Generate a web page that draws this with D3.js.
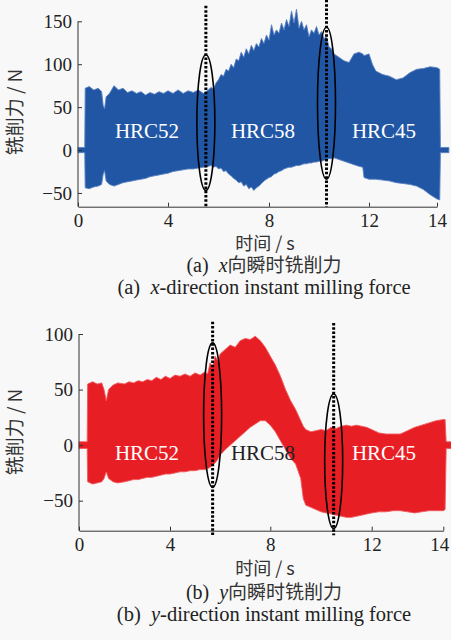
<!DOCTYPE html>
<html>
<head>
<meta charset="utf-8">
<script src="https://cdn.jsdelivr.net/npm/d3@7"></script>
<style>
  body { margin: 0; background: #f8f8f8; }
  svg { display: block; }
</style>
</head>
<body>
<div id="chart-area"></div>
<script>

var width = 451,
    height = 640;

// time ticks / labels
var xTicks = [0, 4, 8, 12, 14];
var yTicksTop = [-50, 0, 50, 100, 150];
var yTicksBot = [-50, 0, 50, 100];
var zoneLabels = ["HRC52", "HRC58", "HRC45"];

// (a) x-direction force envelope
var xTime  = [0, 0.30, 0.32, 0.5, 0.7, 0.9, 1.05, 1.12, 1.18, 1.25, 1.4, 1.6, 1.8, 2.0, 2.2, 2.4, 2.6, 2.8, 3.0, 3.2, 3.4, 3.6, 3.8, 4.0, 4.2, 4.4, 4.6, 4.8, 5.0, 5.2, 5.4,
              5.6, 5.7, 5.8, 5.9, 6.0, 6.1, 6.2, 6.3, 6.4, 6.5, 6.6, 6.7, 6.8, 6.9, 7.0, 7.1, 7.2, 7.3, 7.4, 7.5, 7.6, 7.7, 7.8, 7.9, 8.0, 8.1, 8.2, 8.3, 8.4, 8.5, 8.6, 8.7, 8.8, 8.9, 9.0, 9.1, 9.2, 9.3, 9.4, 9.5, 9.6, 9.7, 9.8, 9.9, 10.0, 10.1, 10.2, 10.3, 10.4, 10.5, 10.6,
              10.8, 11.0, 11.2, 11.4, 11.6, 11.75, 11.8, 12.0, 12.1, 12.2, 12.4, 12.6, 12.8, 13.0, 13.2, 13.4, 13.6, 13.8, 14.0, 14.08, 14.1, 14.35];
var xUpper = [3, 3, 72, 74, 70, 72, 68, 52, 48, 62, 66, 75, 70, 72, 67, 69, 66, 68, 64, 67, 65, 68, 66, 69, 66, 70, 66, 69, 67, 70, 66,
              70, 73, 71, 78, 82, 88, 86, 94, 92, 100, 96, 106, 104, 114, 108, 118, 112, 122, 116, 124, 120, 130, 124, 134, 128, 146, 134, 140, 136, 148, 140, 152, 144, 162, 148, 164, 142, 150, 140, 146, 132, 140, 136, 144, 134, 138, 130, 132, 120, 118, 112,
              108, 104, 102, 112, 114, 112, 110, 112, 100, 92, 88, 86, 82, 84, 90, 94, 95, 97, 96, 94, 3, 3];
var xLower = [-3, -3, -44, -45, -43, -42, -40, -28, -24, -36, -40, -42, -40, -38, -37, -36, -35, -34, -33, -31, -30, -29, -28, -27, -25, -24, -23, -22, -22, -21, -20,
              -19, -18, -20, -19, -22, -21, -25, -24, -28, -30, -33, -35, -38, -37, -42, -40, -45, -43, -47, -44, -42, -39, -36, -34, -32, -31, -28, -27, -25, -24, -22, -21, -20, -20, -19, -18, -18, -17, -16, -16, -15, -15, -14, -14, -13, -13, -12, -11, -10, -10, -9,
              -11, -13, -15, -17, -19, -20, -32, -34, -34, -34, -35, -36, -38, -39, -40, -42, -46, -52, -57, -58, -3, -3];

// (b) y-direction force envelope
var yTime  = [0, 0.36, 0.38, 0.6, 0.8, 1.0, 1.1, 1.2, 1.3, 1.5, 1.7, 2.0, 2.2, 2.4, 2.6, 2.8, 3.0, 3.2, 3.4, 3.6, 3.8, 4.0, 4.2, 4.4, 4.6, 4.8, 5.0, 5.2, 5.4, 5.5, 5.6, 5.7, 5.8, 5.9, 6.0, 6.2, 6.4, 6.6, 6.8, 7.0, 7.2, 7.4, 7.6, 7.8, 8.0, 8.2, 8.4, 8.6, 8.8, 9.0, 9.2, 9.3, 9.4, 9.6, 9.8, 10.0, 10.2, 10.4, 10.6, 10.8, 11.0, 11.2, 11.4, 11.6, 11.8, 12.0, 12.2, 12.4, 12.6, 12.8, 13.0, 13.2, 13.4, 13.6, 13.8, 14.0, 14.05, 14.08, 14.35];
var yUpper = [3, 3, 55, 57, 55, 56, 50, 40, 50, 54, 56, 55, 57, 56, 58, 57, 59, 58, 61, 59, 62, 60, 63, 62, 64, 62, 65, 63, 66, 64, 74, 70, 80, 76, 82, 86, 90, 88, 94, 96, 95, 98, 94, 88, 80, 72, 62, 50, 40, 32, 22, 17, 14, 12, 13, 14, 13, 16, 15, 17, 18, 17, 18, 17, 16, 14, 11, 10, 10, 10, 13, 16, 18, 20, 22, 23, 23, 3, 3];
var yLower = [-3, -3, -33, -35, -34, -33, -30, -24, -30, -33, -34, -33, -32, -31, -31, -30, -29, -29, -28, -27, -26, -26, -25, -24, -24, -23, -23, -22, -22, -21, -20, -18, -16, -13, -9, -4, 0, 4, 8, 12, 16, 19, 22, 22, 18, 12, 4, -4, -12, -17, -30, -48, -54, -56, -58, -60, -61, -62, -63, -64, -65, -65, -64, -63, -62, -61, -60, -60, -59, -59, -60, -61, -60, -59, -59, -59, -58, -3, -3];

// dotted marks and ellipses (time, top value, bottom value)
var marksTop = [5.5, 10.3];
var ellTop = [[5.5, 111, -47], [10.3, 143, -34]];
var marksBot = [5.7, 10.5];
var ellBot = [[5.7, 92, -38], [10.5, 46, -75]];

var svg = d3.select("#chart-area").append("svg")
    .attr("width", width)
    .attr("height", height);

svg.append("rect").attr("width", width).attr("height", height).attr("fill", "#f8f8f8");

function panel(cfg) {
  var x = d3.scaleLinear().domain(xTicks).range(cfg.xr);
  var y = d3.scaleLinear().domain(cfg.ydom).range(cfg.yr);

  var pts = cfg.time.map(function(t, i) { return {t: t, hi: cfg.upper[i], lo: cfg.lower[i]}; });

  var area = d3.area()
      .x(d => x(d.t))
      .y0(d => y(d.lo))
      .y1(d => y(d.hi));

  svg.append("path")
      .datum(pts)
      .attr("d", area)
      .attr("fill", cfg.color)
      .attr("stroke", cfg.edge)
      .attr("stroke-width", 0.9)
      .attr("stroke-linejoin", "miter");

  // axes
  var yAxis = d3.axisLeft(y).tickValues(cfg.yticks).tickSizeInner(-4).tickSizeOuter(0).tickPadding(6)
      .tickFormat(d => d < 0 ? "\u2212" + Math.abs(d) : d);
  var gy = svg.append("g").attr("transform", "translate(" + cfg.xr[0] + ",0)").call(yAxis);

  var xAxis = d3.axisBottom(x).tickValues(xTicks).tickSizeInner(-4).tickSizeOuter(0).tickPadding(7);
  var gx = svg.append("g").attr("transform", "translate(0," + cfg.yr[0] + ")").call(xAxis);

  [gx, gy].forEach(function(g) {
    g.selectAll("path, line").attr("stroke", "#333").attr("stroke-width", 1);
    g.selectAll("text").attr("font-family", "Liberation Serif, serif").attr("font-size", 19).attr("fill", "#222");
  });
  gy.select(".domain").attr("d", "M0," + cfg.yr[0] + "V" + y(cfg.yticks[cfg.yticks.length - 1]));
  gx.selectAll(".tick text").attr("dx", d => d === 14 ? cfg.lastDx : 0);

  // dotted separators
  svg.selectAll(null)
      .data(cfg.marks)
      .enter()
      .append("line")
      .attr("x1", d => x(d)).attr("x2", d => x(d))
      .attr("y1", (d, i) => y(cfg.markTop[i]))
      .attr("y2", y(cfg.markBot))
      .attr("stroke", "#000")
      .attr("stroke-width", 3)
      .attr("stroke-dasharray", "2.5,1.8");

  svg.selectAll(null)
      .data(cfg.ell)
      .enter()
      .append("ellipse")
      .attr("cx", d => x(d[0]))
      .attr("cy", d => (y(d[1]) + y(d[2])) / 2)
      .attr("rx", 9)
      .attr("ry", d => (y(d[2]) - y(d[1])) / 2)
      .attr("fill", "none")
      .attr("stroke", "#000")
      .attr("stroke-width", 1.6);

  // zone labels
  svg.selectAll(null)
      .data(zoneLabels)
      .enter()
      .append("text")
      .attr("x", (d, i) => cfg.labelX[i])
      .attr("y", y(cfg.labelV))
      .attr("text-anchor", "middle")
      .attr("font-family", "Liberation Serif, serif")
      .attr("font-size", 21)
      .attr("fill", (d, i) => cfg.labelFill[i])
      .text(d => d);

  // axis titles
  svg.append("text")
      .attr("transform", "translate(15," + cfg.ylabY + ") rotate(-90)")
      .attr("text-anchor", "middle")
      .attr("dy", "0.35em")
      .attr("font-family", "Noto Sans CJK SC, sans-serif")
      .attr("font-size", 19)
      .attr("fill", "#333")
      .text("铣削力 / N");

  svg.append("text")
      .attr("x", 265).attr("y", cfg.xlabY)
      .attr("text-anchor", "middle")
      .attr("dy", "0.35em")
      .attr("font-family", "Noto Sans CJK SC, sans-serif")
      .attr("font-size", 18)
      .attr("fill", "#333")
      .text("时间 / s");

  var c1 = svg.append("text")
      .attr("x", 264).attr("y", cfg.cap1Y)
      .attr("text-anchor", "middle")
      .attr("dy", "0.35em")
      .attr("font-size", 20)
      .attr("fill", "#222");
  c1.append("tspan").attr("font-family", "Liberation Serif, serif").text(cfg.tag + "\u00a0\u00a0");
  c1.append("tspan").attr("font-family", "Liberation Serif, serif").attr("font-style", "italic").text(cfg.axisName);
  c1.append("tspan").attr("font-family", "Noto Sans CJK SC, sans-serif").attr("fill", "#333").attr("font-size", 19).text("向瞬时铣削力");

  var c2 = svg.append("text")
      .attr("x", 264).attr("y", cfg.cap2Y)
      .attr("text-anchor", "middle")
      .attr("dy", "0.35em")
      .attr("font-family", "Liberation Serif, serif")
      .attr("font-size", 20.5)
      .attr("fill", "#222");
  c2.append("tspan").text(cfg.tag + "\u00a0\u00a0");
  c2.append("tspan").attr("font-style", "italic").text(cfg.axisName);
  c2.append("tspan").text("-direction instant milling force");
}

panel({
  xr: [78, 168, 269, 369, 437], yr: [206.7, 21.3], ydom: [-66, 150],
  time: xTime, upper: xUpper, lower: xLower,
  color: "#2156a5", edge: "#5a82c2", yticks: yTicksTop,
  marks: marksTop, markTop: [168, 175], markBot: -66,
  ell: ellTop, lastDx: 0,
  labelX: [147, 263, 384], labelV: 14, labelFill: ["#fff", "#fff", "#fff"],
  ylabY: 112, xlabY: 243.5, cap1Y: 265, cap2Y: 286.5,
  tag: "(a)", axisName: "x"
});

panel({
  xr: [79, 170, 270.3, 371.7, 443.3], yr: [530.7, 334], ydom: [-77, 100],
  time: yTime, upper: yUpper, lower: yLower,
  color: "#e81e25", edge: "#ef5a5e", yticks: yTicksBot,
  marks: marksBot, markTop: [111, 110], markBot: -81,
  ell: ellBot, lastDx: -4,
  labelX: [147, 263, 384], labelV: -13, labelFill: ["#fff", "#222", "#fff"],
  ylabY: 432, xlabY: 568.5, cap1Y: 591.5, cap2Y: 613.5,
  tag: "(b)", axisName: "y"
});

</script>
</body>
</html>
